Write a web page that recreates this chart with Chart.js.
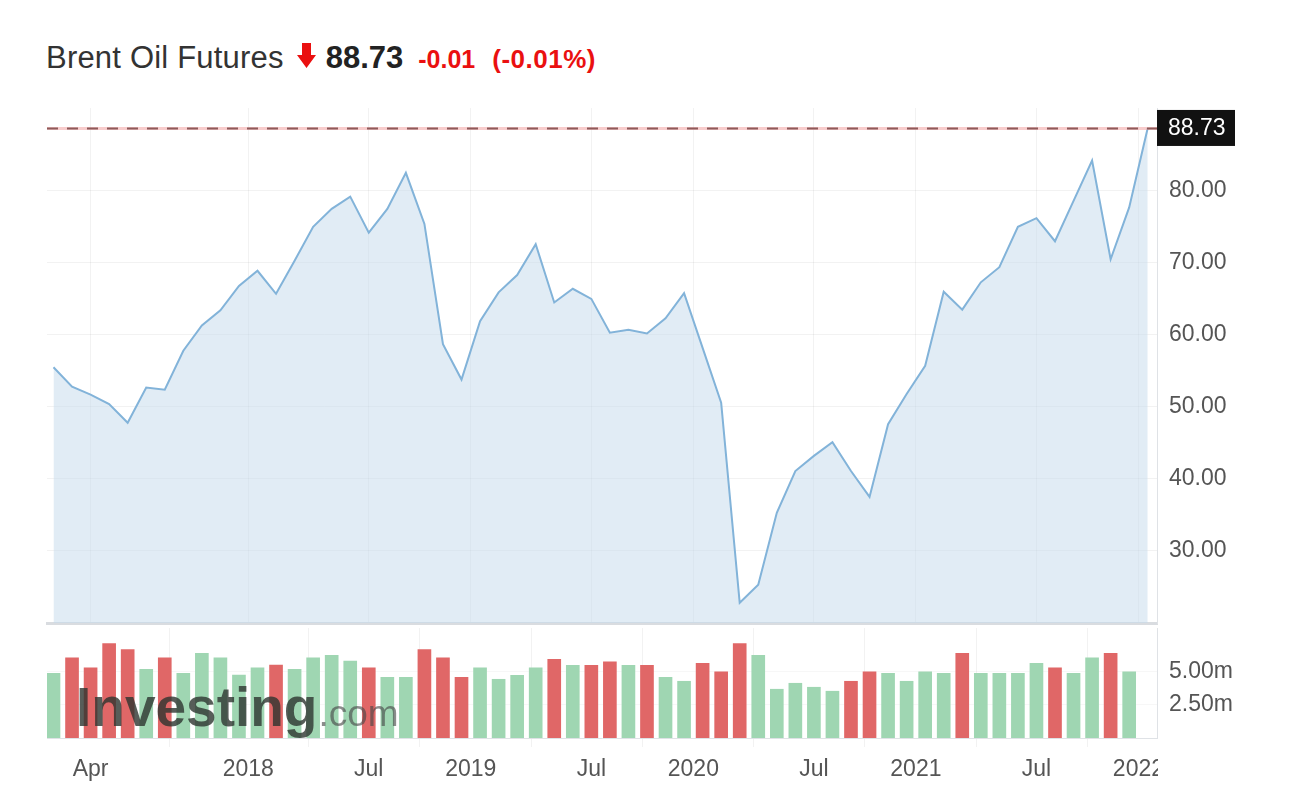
<!DOCTYPE html>
<html>
<head>
<meta charset="utf-8">
<script src="https://cdn.jsdelivr.net/npm/chart.js@4.4.1/dist/chart.umd.min.js"></script>
<style>
  html, body { margin: 0; padding: 0; background: #fff; }
  body { width: 1307px; height: 800px; position: relative; overflow: hidden; font-family: Arial, "Liberation Sans", sans-serif; }
  #title { position: absolute; left: 46px; top: 41px; display: flex; align-items: baseline; white-space: nowrap; line-height: 34px; }
  #title .name { font-size: 31px; color: #333; letter-spacing: 0.2px; }
  #title svg { margin-left: 13px; }
  #title .last { font-size: 31px; font-weight: bold; color: #222; margin-left: 10px; }
  #title .chg { font-size: 25px; font-weight: bold; color: #ea1010; margin-left: 15px; }
  #title .pct { font-size: 26px; font-weight: bold; color: #ea1010; margin-left: 17px; letter-spacing: 0.5px; }
  #priceBox { position: absolute; left: 0; top: 0; }
  #volBox { position: absolute; left: 0; top: 620px; }
  #wm { position: absolute; left: 76px; top: 681px; display: flex; align-items: baseline; white-space: nowrap; line-height: 53px; pointer-events: none; }
  #wm .a { font-size: 55px; font-weight: bold; color: rgba(45, 52, 48, 0.8); }
  #wm .b { font-size: 37px; color: rgba(70, 70, 70, 0.62); margin-left: 1px; }
</style>
</head>
<body>
<div id="title">
  <span class="name">Brent Oil Futures</span>
  <svg width="19" height="25" viewBox="0 0 19 25"><polygon points="5,0 14,0 14,12 19,12 9.5,25 0,12 5,12" fill="#ea1010"/></svg>
  <span class="last">88.73</span>
  <span class="chg">-0.01</span>
  <span class="pct">(-0.01%)</span>
</div>
<canvas id="priceBox" width="1307" height="640"></canvas>
<canvas id="volBox" width="1307" height="180"></canvas>
<div id="wm"><span class="a">Investing</span><span class="b">.com</span></div>
<script>
// monthly closes, Feb 2017 .. Jan 2022
const months = ['Feb 17','Mar 17','Apr 17','May 17','Jun 17','Jul 17','Aug 17','Sep 17','Oct 17','Nov 17','Dec 17',
  'Jan 18','Feb 18','Mar 18','Apr 18','May 18','Jun 18','Jul 18','Aug 18','Sep 18','Oct 18','Nov 18','Dec 18',
  'Jan 19','Feb 19','Mar 19','Apr 19','May 19','Jun 19','Jul 19','Aug 19','Sep 19','Oct 19','Nov 19','Dec 19',
  'Jan 20','Feb 20','Mar 20','Apr 20','May 20','Jun 20','Jul 20','Aug 20','Sep 20','Oct 20','Nov 20','Dec 20',
  'Jan 21','Feb 21','Mar 21','Apr 21','May 21','Jun 21','Jul 21','Aug 21','Sep 21','Oct 21','Nov 21','Dec 21','Jan 22'];
const prices = [55.5, 52.8, 51.7, 50.4, 47.8, 52.7, 52.4, 57.8, 61.3, 63.4, 66.8,
  68.9, 65.7, 70.3, 75.0, 77.5, 79.2, 74.2, 77.5, 82.5, 75.4, 58.7, 53.8,
  61.9, 65.9, 68.3, 72.6, 64.5, 66.4, 65.0, 60.3, 60.7, 60.2, 62.3, 65.8,
  58.2, 50.6, 22.8, 25.3, 35.3, 41.1, 43.2, 45.1, 41.1, 37.5, 47.6, 51.8,
  55.7, 66.0, 63.5, 67.3, 69.4, 75.0, 76.2, 73.0, 78.6, 84.2, 70.5, 77.7, 88.73];
// volume in millions (no bar yet for the current month)
const volumes = [4.88, 6.05, 5.30, 7.13, 6.68, 5.18, 6.05, 4.88, 6.38, 6.05, 4.75,
  5.30, 5.50, 5.18, 6.05, 6.23, 5.80, 5.30, 4.58, 4.58, 6.68, 6.05, 4.58,
  5.30, 4.43, 4.73, 5.30, 5.93, 5.48, 5.48, 5.75, 5.48, 5.48, 4.58, 4.28,
  5.63, 5.00, 7.13, 6.23, 3.68, 4.13, 3.83, 3.53, 4.28, 5.00, 4.88, 4.28,
  5.00, 4.88, 6.38, 4.88, 4.88, 4.88, 5.63, 5.30, 4.88, 6.05, 6.38, 5.00];
const lastPrice = 88.73;
// x tick positions (month index; year ticks sit between Dec and Jan)
const xTickPos = [2, 10.5, 17, 22.5, 29, 34.5, 41, 46.5, 53, 58.5];
const xTickLabels = ['Apr', '2018', 'Jul', '2019', 'Jul', '2020', 'Jul', '2021', 'Jul', '2022'];
const priceTicks = [30, 40, 50, 60, 70, 80];
const volTicks = [2.5, 5];

Chart.defaults.font.family = 'Arial, "Liberation Sans", sans-serif';
Chart.defaults.animation = false;

const gridColor = 'rgba(0,0,0,0.05)';
const axisColor = '#dfe2e6';
const xMin = -0.35, xMax = 59.5;

const setXTicks = (s) => { s.ticks = xTickPos.map(v => ({ value: v })); };
const noPad = (s) => { s.paddingTop = 0; s.paddingBottom = 0; s.paddingLeft = 0; s.paddingRight = 0; };

const lastPriceLine = {
  id: 'lastPriceLine',
  afterDatasetsDraw(chart) {
    const { ctx, chartArea, scales } = chart;
    const y = Math.round(scales.y.getPixelForValue(lastPrice)) + 0.5;
    ctx.save();
    ctx.strokeStyle = 'rgba(244,170,170,0.6)';
    ctx.lineWidth = 3;
    ctx.beginPath(); ctx.moveTo(chartArea.left, y); ctx.lineTo(chartArea.right, y); ctx.stroke();
    ctx.setLineDash([11, 9]);
    ctx.strokeStyle = '#8e5a5a';
    ctx.lineWidth = 2;
    ctx.beginPath(); ctx.moveTo(chartArea.left, y); ctx.lineTo(chartArea.right, y); ctx.stroke();
    ctx.restore();
  },
  afterDraw(chart) {
    const { ctx, chartArea, scales } = chart;
    const y = scales.y.getPixelForValue(lastPrice);
    ctx.save();
    ctx.fillStyle = '#111';
    ctx.fillRect(chartArea.right, y - 18, 78, 36);
    ctx.fillStyle = '#fff';
    ctx.font = '23px Arial, "Liberation Sans", sans-serif';
    ctx.textBaseline = 'middle';
    ctx.fillText(lastPrice.toFixed(2), chartArea.right + 11, y + 1);
    ctx.restore();
  }
};

// the last x label is cut off at the price axis, as in the original widget
const cutLastLabel = {
  id: 'cutLastLabel',
  afterDraw(chart) {
    const { ctx, chartArea } = chart;
    ctx.save();
    ctx.fillStyle = '#fff';
    ctx.fillRect(chartArea.right + 1, chartArea.bottom + 12, 40, chart.height - chartArea.bottom);
    ctx.restore();
  }
};

new Chart(document.getElementById('priceBox'), {
  type: 'line',
  data: {
    datasets: [{
      label: 'Brent',
      data: prices.map((p, i) => ({ x: i, y: p })),
      borderColor: '#82b3d9',
      borderWidth: 2,
      backgroundColor: 'rgba(196,217,235,0.5)',
      fill: 'start',
      pointRadius: 0,
      tension: 0
    }]
  },
  options: {
    responsive: false,
    layout: { padding: { top: 108, left: 47, right: 0, bottom: 17 } },
    plugins: { legend: { display: false }, tooltip: { enabled: false } },
    scales: {
      x: {
        type: 'linear', min: xMin, max: xMax,
        afterBuildTicks: setXTicks,
        afterFit: (s) => { s.height = 0; noPad(s); },
        ticks: { display: false },
        grid: { color: gridColor, drawTicks: false },
        border: { color: '#d9dce0', width: 3 }
      },
      y: {
        position: 'right', min: 20, max: 91.5,
        afterBuildTicks: (s) => { s.ticks = priceTicks.map(v => ({ value: v })); },
        afterFit: (s) => { s.width = 150; noPad(s); },
        ticks: { color: '#555', font: { size: 23 }, padding: 12, callback: (v) => v.toFixed(2) },
        grid: { color: gridColor, drawTicks: false },
        border: { color: axisColor }
      }
    }
  },
  plugins: [lastPriceLine]
});

new Chart(document.getElementById('volBox'), {
  type: 'bar',
  data: {
    datasets: [{
      label: 'Volume',
      data: volumes.map((v, i) => ({ x: i, y: v })),
      backgroundColor: volumes.map((v, i) => (i > 0 && prices[i] < prices[i - 1]) ? '#e06767' : '#9fd6b2'),
      barThickness: 13
    }]
  },
  options: {
    responsive: false,
    layout: { padding: { top: 8, left: 47, right: 0, bottom: 0 } },
    plugins: { legend: { display: false }, tooltip: { enabled: false } },
    scales: {
      x: {
        type: 'linear', min: xMin, max: xMax, offset: false,
        afterBuildTicks: setXTicks,
        afterFit: (s) => { s.height = 62; noPad(s); },
        ticks: {
          color: '#555', font: { size: 23 }, padding: 9, autoSkip: false, maxRotation: 0,
          callback: (v) => xTickLabels[xTickPos.indexOf(v)]
        },
        grid: { color: gridColor, tickLength: 9 },
        border: { color: axisColor }
      },
      y: {
        position: 'right', min: 0, max: 8.3,
        afterBuildTicks: (s) => { s.ticks = volTicks.map(v => ({ value: v })); },
        afterFit: (s) => { s.width = 150; noPad(s); },
        ticks: { color: '#555', font: { size: 23 }, padding: 12, callback: (v) => v.toFixed(2) + 'm' },
        grid: { color: 'rgba(0,0,0,0.03)', drawTicks: false },
        border: { color: axisColor }
      }
    }
  },
  plugins: [cutLastLabel]
});
</script>
</body>
</html>
